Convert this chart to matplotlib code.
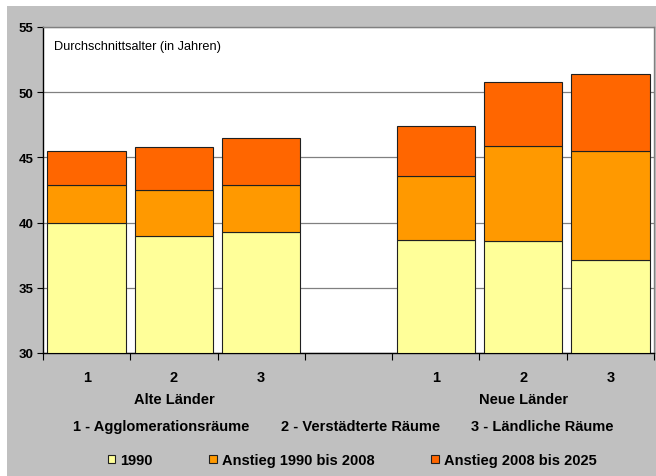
import numpy as np
import matplotlib.pyplot as plt
from matplotlib.patches import Rectangle

plt.rcParams['font.family'] = ['Liberation Sans', 'DejaVu Sans']

# Durchschnittsalter nach Raumtyp, Alte und Neue Länder
slots = [0, 1, 2, 4, 5, 6]
slot_labels = ['1', '2', '3', '1', '2', '3']
groups = ['Alte Länder', 'Neue Länder']
raumtypen = ['1 - Agglomerationsräume', '2 - Verstädterte Räume', '3 - Ländliche Räume']

alter_1990 = [40.0, 39.0, 39.3, 38.7, 38.6, 37.1]
alter_2008 = [42.9, 42.5, 42.9, 43.6, 45.9, 45.5]
alter_2025 = [45.5, 45.8, 46.5, 47.4, 50.8, 51.4]

series = ['1990', 'Anstieg 1990 bis 2008', 'Anstieg 2008 bis 2025']
colors = ['#FFFF99', '#FF9900', '#FF6600']

W, H = 656, 477
fig = plt.figure(figsize=(W / 100, H / 100), dpi=100)
fig.patch.set_facecolor('white')
fig.patches.append(Rectangle((7 / W, 0), 1, 470 / H, transform=fig.transFigure,
                             facecolor='#C0C0C0', edgecolor='none', zorder=-10))

ax = fig.add_axes([43 / W, 123 / H, 611 / W, 326 / H])
ax.set_facecolor('white')

x = np.array(slots)
a90 = np.array(alter_1990)
a08 = np.array(alter_2008)
a25 = np.array(alter_2025)
base = 30
bar_kw = dict(width=0.9, edgecolor='#202020', linewidth=0.8, zorder=3)
ax.bar(x, a90 - base, bottom=base, color=colors[0], label=series[0], **bar_kw)
ax.bar(x, a08 - a90, bottom=a90, color=colors[1], label=series[1], **bar_kw)
ax.bar(x, a25 - a08, bottom=a08, color=colors[2], label=series[2], **bar_kw)

ax.set_ylim(30, 55)
ax.set_xlim(-0.5, 6.5)
ax.set_yticks(np.arange(30, 56, 5))
ax.yaxis.grid(True, color='#808080', linewidth=0.9)
ax.set_axisbelow(True)
ax.tick_params(axis='y', direction='out', length=4, width=0.8, labelsize=9.5, pad=3)
for t in ax.get_yticklabels():
    t.set_fontweight('bold')

ax.set_xticks(np.arange(-0.5, 7, 1))
ax.set_xticklabels([])
ax.tick_params(axis='x', direction='out', length=5, width=0.8)

for side in ['top', 'right']:
    ax.spines[side].set_color('#808080')
    ax.spines[side].set_linewidth(1.0)
ax.spines['left'].set_linewidth(1.0)
ax.spines['bottom'].set_linewidth(1.0)

ax.text(11 / 611, 1 - 19 / 326, 'Durchschnittsalter (in Jahren)', transform=ax.transAxes,
        fontsize=9.2, va='center', ha='left')

# Kategorienbeschriftungen unter der Achse
lab_trans = ax.get_xaxis_transform()
for xs, lab in zip(slots, slot_labels):
    ax.text(xs, -(378 - 354) / 326, lab, transform=lab_trans,
            fontsize=10.5, fontweight='bold', ha='center', va='center')
ax.text(1, -(400 - 354) / 326, groups[0], transform=lab_trans,
        fontsize=10.5, fontweight='bold', ha='center', va='center')
ax.text(5, -(400 - 354) / 326, groups[1], transform=lab_trans,
        fontsize=10.5, fontweight='bold', ha='center', va='center')

for cx, txt in zip([161, 361, 542], raumtypen):
    fig.text(cx / W, 1 - 427 / H, txt, fontsize=10.5, fontweight='bold',
             ha='center', va='center')

fig.legend(loc='center', bbox_to_anchor=(352 / W, 1 - 461 / H), ncol=3,
           frameon=False, handlelength=0.5, handleheight=0.5,
           handletextpad=0.35, columnspacing=3.9, prop={'weight': 'bold', 'size': 10.5})

fig.savefig('out.png', dpi=100, facecolor=fig.get_facecolor())
